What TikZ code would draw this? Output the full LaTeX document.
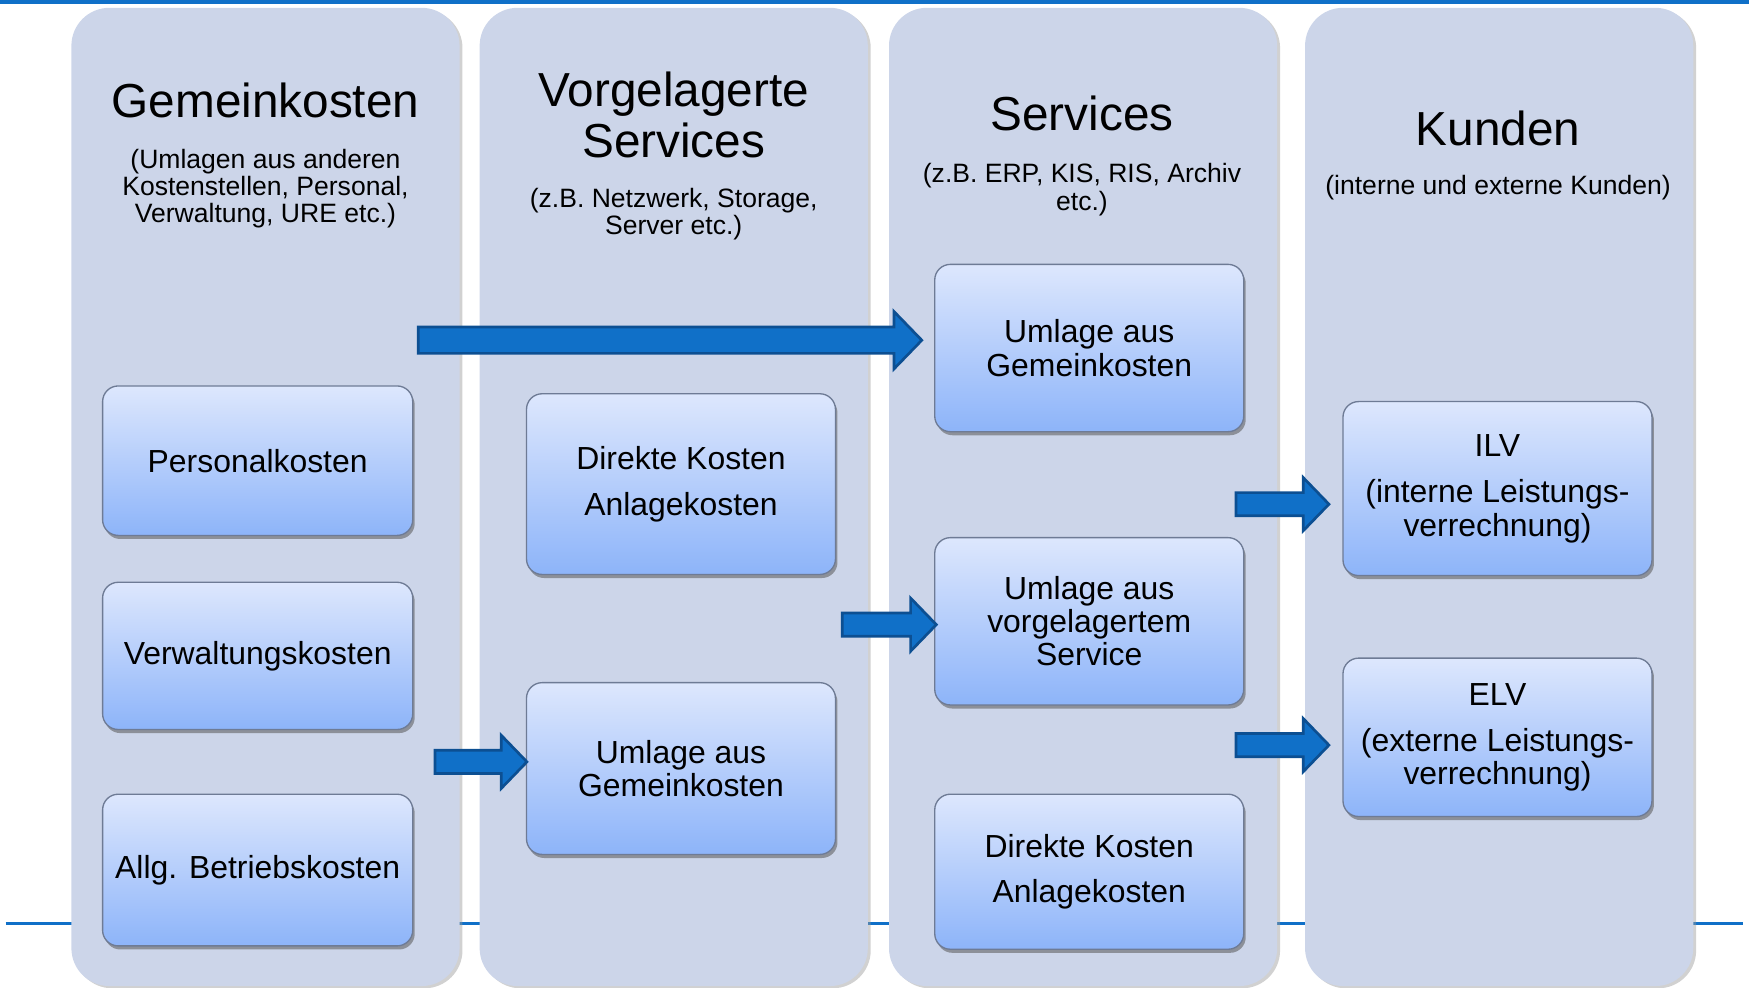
\documentclass[tikz,border=0pt]{standalone}
\usepackage{fontspec}
\setmainfont{Liberation Sans}
\usetikzlibrary{calc,shadows}
\definecolor{colbg}{HTML}{CCD5E9}
\definecolor{boxtop}{HTML}{DDE7FD}
\definecolor{boxbot}{HTML}{8DB4F9}
\definecolor{boxline}{HTML}{6E7B95}
\definecolor{arrfill}{HTML}{1070C8}
\definecolor{arrline}{HTML}{0C4F92}
\definecolor{rulecol}{HTML}{1070C8}
\tikzset{
  panel/.style={fill=colbg, rounded corners=17pt,
    drop shadow={shadow xshift=1.3pt, shadow yshift=-1pt, fill=black!40, opacity=0.45}},
  htitle/.style={align=center, inner sep=0pt, font=\fontsize{21.4}{22.5}\selectfont},
  hsub/.style={align=center, inner sep=0pt, font=\fontsize{11.9}{12.25}\selectfont},
  kbox/.style={rectangle, rounded corners=7pt, draw=boxline, line width=0.6pt,
    top color=boxtop, bottom color=boxbot, align=center, inner sep=2pt,
    font=\fontsize{14.3}{14.9}\selectfont,
    drop shadow={shadow xshift=0.9pt, shadow yshift=-1.6pt, fill=black!65, opacity=0.55}},
  blockarr/.style n args={3}{draw=arrline, fill=arrfill, line width=1.2pt, line join=miter,
    to path={let \p1=(\tikztostart), \p2=(\tikztotarget) in
      (\x1,\y1+#1) -- (\x2-#3,\y1+#1) -- (\x2-#3,\y1+#2) -- (\x2,\y1)
      -- (\x2-#3,\y1-#2) -- (\x2-#3,\y1-#1) -- (\x1,\y1-#1) -- cycle}}
}
\begin{document}
\begin{tikzpicture}[x=0.5pt, y=-0.5pt]
\useasboundingbox (0,0) rectangle (1568,885);
% rules
\fill[rulecol] (0,0) rectangle (1568,3.5);
\draw[rulecol, line width=1pt] (5,828) -- (1563,828);
% panels
\path[panel] (64,7) rectangle (412,884);
\path[panel] (430,7) rectangle (778,884);
\path[panel] (797,7) rectangle (1145,884);
\path[panel] (1170,7) rectangle (1518,884);
% headings
\node[htitle] (h1) at (238,90) {Gemeinkosten};
\node[hsub] (h1s) at (238,169) {(Umlagen aus anderen\\Kostenstellen, Personal,\\Verwaltung, URE etc.)};
\node[htitle] (h2) at (604,103) {Vorgelagerte\\Services};
\node[hsub] (h2s) at (604,192) {(z.B. Netzwerk, Storage,\\Server etc.)};
\node[htitle] (h3) at (970,102) {Services};
\node[hsub] (h3s) at (970,170) {(z.B. ERP, KIS, RIS, Archiv\\etc.)};
\node[htitle] (h4) at (1343,115) {Kunden};
\node[hsub] (h4s) at (1343,168) {(interne und externe Kunden)};
% boxes column 1
\node[kbox, minimum width=139pt, minimum height=67pt] (p1) at (231,413) {Personalkosten};
\node[kbox, minimum width=139pt, minimum height=66pt] (p2) at (231,588) {Verwaltungskosten};
\node[kbox, minimum width=139pt, minimum height=68pt] (p3) at (231,780) {Allg. Betriebskosten};
% column 2
\node[kbox, minimum width=138.5pt, minimum height=81pt] (v1) at (610.5,434) {Direkte Kosten\\[5.6pt]Anlagekosten};
\node[kbox, minimum width=138.5pt, minimum height=77pt] (v2) at (610.5,689) {Umlage aus\\Gemeinkosten};
% column 3
\node[kbox, minimum width=138.5pt, minimum height=75pt] (s1) at (976.5,312) {Umlage aus\\Gemeinkosten};
\node[kbox, minimum width=138.5pt, minimum height=75pt] (s2) at (976.5,557) {Umlage aus\\vorgelagertem\\Service};
\node[kbox, minimum width=138.5pt, minimum height=69.5pt] (s3) at (976.5,781.5) {Direkte Kosten\\[5.6pt]Anlagekosten};
% column 4
\node[kbox, minimum width=138.5pt, minimum height=78pt] (k1) at (1342.5,438) {ILV\\[6pt](interne Leistungs-\\verrechnung)};
\node[kbox, minimum width=138.5pt, minimum height=71pt] (k2) at (1342.5,661) {ELV\\[6pt](externe Leistungs-\\verrechnung)};
% arrows
\coordinate (a1) at (375,305);
\coordinate (t1) at ([xshift=-5.5pt]s1.west);
\coordinate (a2) at (390,683);
\coordinate (t2) at ([xshift=0.5pt]v2.west);
\coordinate (a3) at (755,560);
\coordinate (t3) at ([xshift=1pt]s2.west);
\coordinate (a4) at (1108,452);
\coordinate (t4) at ([xshift=-6pt]k1.west);
\coordinate (a5) at (1108,668);
\coordinate (t5) at ([xshift=-6pt]k2.west);
\draw[blockarr={5.9pt}{12.9pt}{12.5pt}] (a1) to (t1);
\draw[blockarr={5.2pt}{11.9pt}{11.5pt}] (a2) to (t2);
\draw[blockarr={5.2pt}{11.9pt}{11.5pt}] (a3) to (t3);
\draw[blockarr={5.2pt}{11.9pt}{11.5pt}] (a4) to (t4);
\draw[blockarr={5.2pt}{11.9pt}{11.5pt}] (a5) to (t5);
\end{tikzpicture}
\end{document}
